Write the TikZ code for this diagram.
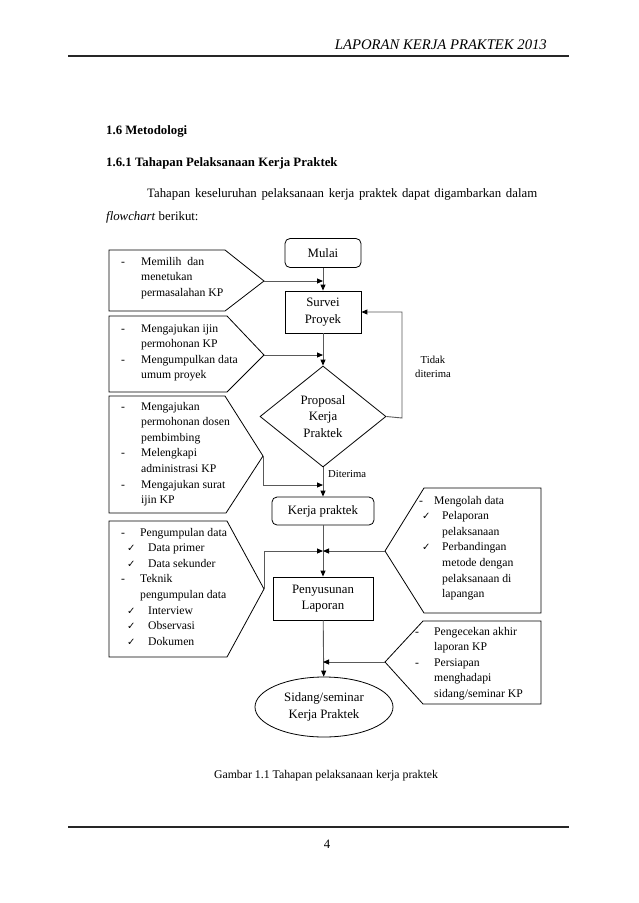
\documentclass[tikz,border=0pt]{standalone}
\usepackage{fontspec}
\setmainfont{Liberation Serif}
\newfontfamily\symfont{DejaVu Sans}
\usetikzlibrary{shapes.geometric,arrows.meta}
\newcommand\chk{{\symfont\fontsize{10}{10}\selectfont ✓}}
\newcommand\dashit[2]{\makebox[#1][l]{-}#2}
\newcommand\hang[2]{\hspace*{#1}#2}
\newcommand\chkit[3]{\hspace*{#1}\makebox[#2][l]{\chk}#3}
\tikzset{
  lst/.style={anchor=north west, inner sep=0pt, align=left, font=\fontsize{11.7}{15.6}\selectfont},
  shp/.style={draw=black, line width=0.8pt, inner sep=0pt, align=center, font=\fontsize{12.8}{16.5}\selectfont},
  pent/.style={draw=black, line width=0.8pt},
  conn/.style={draw=black!65, line width=0.9pt},
  arr/.style={conn, -{Triangle[length=6pt,width=5pt,color=black]}},
  body/.style={anchor=base west, inner sep=0pt, font=\fontsize{12.8}{15}\selectfont},
  small/.style={inner sep=0pt, font=\fontsize{10.7}{14}\selectfont},
}
\begin{document}
\begin{tikzpicture}[x=1pt,y=-1pt]
\path[use as bounding box, fill=white] (0,0) rectangle (638,903);

% page header / footer
\node[anchor=base east, inner sep=0pt, font=\fontsize{14.7}{15}\selectfont\itshape] (hdr) at (547,49) {LAPORAN KERJA PRAKTEK 2013};
\coordinate (hl) at (68,55.7); \coordinate (hr) at (569,55.7);
\draw[line width=2.2pt, black!85] (hl) -- (hr);
\coordinate (fl) at (68,826.7); \coordinate (fr) at (569,826.7);
\draw[line width=2.2pt, black!85] (fl) -- (fr);
\node[anchor=base, inner sep=0pt, font=\fontsize{12.8}{15}\selectfont] (pg) at (327,848) {4};

% body text
\node[body, font=\fontsize{12.8}{15}\selectfont\bfseries] (h1) at (106,134) {1.6 Metodologi};
\node[body, font=\fontsize{12.8}{15}\selectfont\bfseries] (h2) at (106,166) {1.6.1 Tahapan Pelaksanaan Kerja Praktek};
\node[body] (p1) at (147,197) {\makebox[390pt][s]{Tahapan keseluruhan pelaksanaan kerja praktek dapat digambarkan dalam}};
\node[body] (p2) at (106,220) {\textit{flowchart} berikut:};

% main flow shapes
\node[shp, rounded corners=5pt, minimum width=76pt, minimum height=29pt] (mulai) at (323,253) {Mulai};
\node[shp, minimum width=76pt, minimum height=42pt] (survei) at (323,312) {Survei\\Proyek};
\node[shp, diamond, minimum width=126pt, minimum height=101pt] (prop) at (323,416.5) {Proposal\\Kerja\\Praktek};
\node[shp, rounded corners=5pt, minimum width=102pt, minimum height=28pt] (kerja) at (323,511) {Kerja praktek};
\node[shp, minimum width=100pt, minimum height=43pt] (susun) at (323,598.5) {Penyusunan\\Laporan};
\node[shp, ellipse, minimum width=138pt, minimum height=60pt] (sidang) at (324,707) {Sidang/seminar\\Kerja Praktek};

% left pentagons
\draw[pent] (109,250) -- (225,250) -- (264,281) coordinate (tip1) -- (225,311) -- (109,311) -- cycle;
\draw[pent] (109,316) -- (227,316) -- (264,355) coordinate (tip2) -- (227,392) -- (109,392) -- cycle;
\draw[pent] (109,396) -- (225,396) -- (263,456) coordinate (tip3) -- (226,513) -- (109,513) -- cycle;
\draw[pent] (109,521) -- (227,521) -- (264,589) coordinate (tip4) -- (227,657) -- (109,657) -- cycle;
% right pentagons
\draw[pent] (385,551) coordinate (tipA) -- (424,488) -- (541,488) -- (541,613) -- (424,613) -- cycle;
\draw[pent] (385,662) coordinate (tipB) -- (423,621) -- (541,621) -- (541,704) -- (423,704) -- cycle;

% list texts
\node[lst] (t1) at (121,254) {\strut\dashit{20pt}{Memilih\ \ dan}\\\hang{20pt}{menetukan}\\\hang{20pt}{permasalahan KP}};
\node[lst] (t2) at (121,321) {\strut\dashit{20pt}{Mengajukan ijin}\\\hang{20pt}{permohonan KP}\\\dashit{20pt}{Mengumpulkan data}\\\hang{20pt}{umum proyek}};
\node[lst] (t3) at (121,399) {\strut\dashit{20pt}{Mengajukan}\\\hang{20pt}{permohonan dosen}\\\hang{20pt}{pembimbing}\\\dashit{20pt}{Melengkapi}\\\hang{20pt}{administrasi KP}\\\dashit{20pt}{Mengajukan surat}\\\hang{20pt}{ijin KP}};
\node[lst] (t4) at (121,525) {\strut\dashit{19pt}{Pengumpulan data}\\\chkit{6pt}{21pt}{Data primer}\\\chkit{6pt}{21pt}{Data sekunder}\\\dashit{19pt}{Teknik}\\\hang{19pt}{pengumpulan data}\\\chkit{6pt}{21pt}{Interview}\\\chkit{6pt}{21pt}{Observasi}\\\chkit{6pt}{21pt}{Dokumen}};
\node[lst] (tA) at (419,493) {\strut\dashit{15pt}{Mengolah data}\\\chkit{3pt}{20pt}{Pelaporan}\\\hang{23pt}{pelaksanaan}\\\chkit{3pt}{20pt}{Perbandingan}\\\hang{23pt}{metode dengan}\\\hang{23pt}{pelaksanaan di}\\\hang{23pt}{lapangan}};
\node[lst] (tB) at (415,624) {\strut\dashit{19pt}{Pengecekan akhir}\\\hang{19pt}{laporan KP}\\\dashit{19pt}{Persiapan}\\\hang{19pt}{menghadapi}\\\hang{19pt}{sidang/seminar KP}};

% main connectors
\draw[arr] (mulai) -- (survei);
\draw[arr] (survei) -- (prop);
\draw[arr] (prop) -- (kerja);
\draw[arr] (kerja) -- (susun);
\draw[arr] (susun) -- (sidang);
\coordinate (loop) at (402,418);
\draw[arr] (prop.east) -- (loop) |- (survei.east);
\node[small, align=center] (tidak) at (433,367) {Tidak\\diterima};
\node[small, anchor=base west] (diterima) at (328,477) {Diterima};

% side connectors
\draw[arr] (tip1) -- (mulai.south |- tip1);
\draw[arr] (tip2) -- (survei.south |- tip2);
\coordinate (b3) at (263,485);
\draw[arr] (tip3) -- (b3) -- (kerja.north |- b3);
\coordinate (b4) at (264,551);
\draw[arr] (tip4) -- (b4) -- (kerja.south |- b4);
\draw[arr] (tipA) -- (kerja.south |- tipA);
\draw[arr] (tipB) -- (susun.south |- tipB);

% caption
\node[anchor=base, inner sep=0pt, font=\fontsize{11.8}{14}\selectfont] (cap) at (326,778) {Gambar 1.1 Tahapan pelaksanaan kerja praktek};
\end{tikzpicture}
\end{document}
